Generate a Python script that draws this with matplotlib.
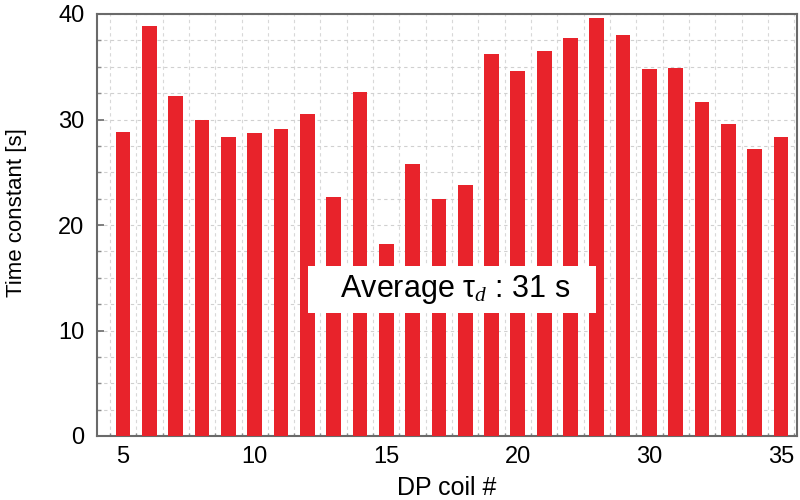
import numpy as np
import matplotlib
matplotlib.use('Agg')
import matplotlib.pyplot as plt
from matplotlib.ticker import MultipleLocator

plt.rcParams['font.family'] = ['Liberation Sans', 'DejaVu Sans']
plt.rcParams['mathtext.fontset'] = 'custom'
plt.rcParams['mathtext.it'] = 'Liberation Serif:italic'
plt.rcParams['mathtext.rm'] = 'Liberation Sans'

# Дані: номер котушки та стала часу
coils = np.arange(5, 31)
tau = [28.8, 38.9, 32.2, 30.0, 28.3, 28.7, 29.1, 30.5, 22.7, 32.6, 18.2, 25.8, 22.5,
       23.8, 36.2, 34.6, 36.5, 37.7, 39.6, 38.0, 34.8, 34.9, 31.7, 29.6, 27.2, 28.3]
# підписи осі x так, як на оригіналі
xtick_pos = [5, 10, 15, 20, 25, 30]
xtick_labels = ['5', '10', '15', '20', '30', '35']

fig = plt.figure(figsize=(8, 5), dpi=100)
ax = fig.add_axes([0.121, 0.128, 0.875, 0.844])

ax.bar(coils, tau, width=0.56, color='#e8232b', zorder=3)

ax.set_xlim(4.0, 30.6)
ax.set_ylim(0, 40)
ax.set_xticks(xtick_pos)
ax.set_xticklabels(xtick_labels)
ax.set_yticks([0, 10, 20, 30, 40])
ax.set_xticks(np.arange(4.5, 31, 1.0), minor=True)
ax.yaxis.set_minor_locator(MultipleLocator(2.5))

ax.tick_params(axis='both', which='major', direction='in', length=5, width=1.2,
               color='#6a6a6a', labelsize=17)
ax.tick_params(axis='y', which='major', pad=9)
ax.tick_params(axis='x', which='major', pad=7)
ax.tick_params(axis='both', which='minor', direction='in', length=3, width=1,
               color='#8a8a8a')
ax.tick_params(axis='x', which='minor', length=2)

# сітка
ax.grid(True, which='both', axis='y', color='#d0d0d0', linestyle=(0, (3, 3)), linewidth=0.8, zorder=0)
ax.grid(True, which='minor', axis='x', color='#d8d8d8', linestyle=(0, (3, 3)), linewidth=0.8, zorder=0)

for s in ax.spines.values():
    s.set_color('#6a6a6a')
    s.set_linewidth(1.5)

ax.set_xlabel('DP coil #', fontsize=18)
ax.xaxis.set_label_coords(0.5, -0.095)
ax.set_ylabel('Time constant [s]', fontsize=16)
ax.yaxis.set_label_coords(-0.099, 0.53)

ax.text(17.5, 13.9, '   Average τ$_{d}$ : 31 s   ', fontsize=22, ha='center', va='center',
        zorder=5, bbox=dict(facecolor='white', edgecolor='none', pad=5))

fig.savefig('out.png', dpi=100)
